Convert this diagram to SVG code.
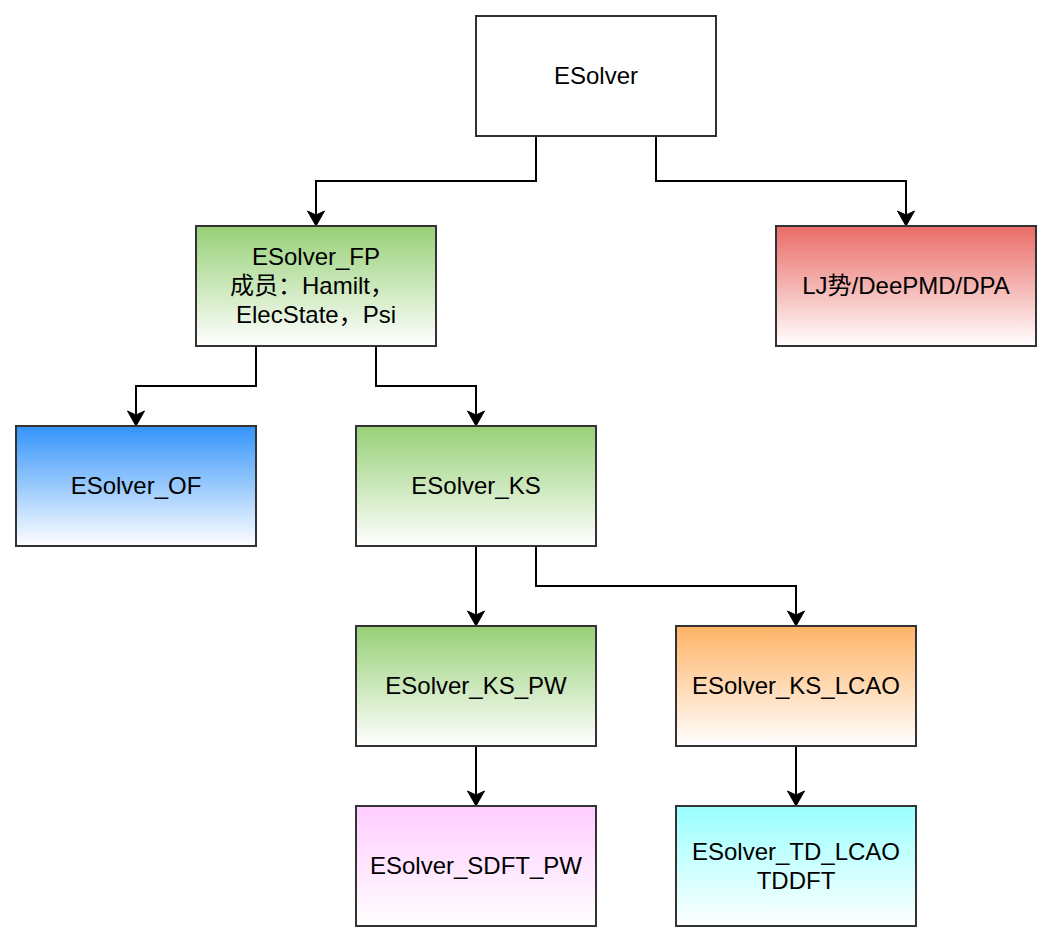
<svg xmlns="http://www.w3.org/2000/svg" width="1054" height="944" viewBox="0 0 1054 944">
<style>
.box{stroke:#333333;stroke-width:2}
.t{font-family:"Liberation Sans","Noto Sans CJK SC",Arial,sans-serif;font-size:24px;fill:#000;text-anchor:middle}
.c{fill:none;stroke:#000;stroke-width:2}
</style>
<defs>
<linearGradient id="gGreen" x1="0" y1="0" x2="0" y2="1"><stop offset="0" stop-color="#97d077"/><stop offset="1" stop-color="#ffffff"/></linearGradient>
<linearGradient id="gRed" x1="0" y1="0" x2="0" y2="1"><stop offset="0" stop-color="#ea6b66"/><stop offset="1" stop-color="#ffffff"/></linearGradient>
<linearGradient id="gBlue" x1="0" y1="0" x2="0" y2="1"><stop offset="0" stop-color="#3394fa"/><stop offset="1" stop-color="#ffffff"/></linearGradient>
<linearGradient id="gOrange" x1="0" y1="0" x2="0" y2="1"><stop offset="0" stop-color="#ffb366"/><stop offset="1" stop-color="#ffffff"/></linearGradient>
<linearGradient id="gPink" x1="0" y1="0" x2="0" y2="1"><stop offset="0" stop-color="#ffccff"/><stop offset="1" stop-color="#ffffff"/></linearGradient>
<linearGradient id="gCyan" x1="0" y1="0" x2="0" y2="1"><stop offset="0" stop-color="#99ffff"/><stop offset="1" stop-color="#ffffff"/></linearGradient>
<marker id="arr" markerUnits="userSpaceOnUse" markerWidth="20" markerHeight="20" refX="0" refY="0" orient="auto" overflow="visible">
<path d="M6,0 L-9,-8.5 L-5,0 L-9,8.5 Z" fill="#000" stroke="#000" stroke-width="1"/>
</marker>
</defs>
<g id="connectors">
<path class="c" d="M536,136 V181 H316 V220" marker-end="url(#arr)"/>
<path class="c" d="M656,136 V181 H906 V220" marker-end="url(#arr)"/>
<path class="c" d="M256,346 V386 H136 V420" marker-end="url(#arr)"/>
<path class="c" d="M376,346 V386 H476 V420" marker-end="url(#arr)"/>
<path class="c" d="M476,546 V620" marker-end="url(#arr)"/>
<path class="c" d="M536,546 V586 H796 V620" marker-end="url(#arr)"/>
<path class="c" d="M476,746 V800" marker-end="url(#arr)"/>
<path class="c" d="M796,746 V800" marker-end="url(#arr)"/>
</g>
<g id="esolver">
<rect class="box" x="476" y="16" width="240" height="120" fill="#ffffff"/>
<text class="t" x="596" y="84">ESolver</text>
</g>
<g id="esolver_fp">
<rect class="box" x="196" y="226" width="240" height="120" fill="url(#gGreen)"/>
<text class="t" x="316" y="265">ESolver_FP</text>
<text class="t" x="312" y="294">成员：Hamilt，</text>
<text class="t" x="316" y="323">ElecState，Psi</text>
</g>
<g id="lj">
<rect class="box" x="776" y="226" width="260" height="120" fill="url(#gRed)"/>
<text class="t" x="906" y="294">LJ势/DeePMD/DPA</text>
</g>
<g id="esolver_of">
<rect class="box" x="16" y="426" width="240" height="120" fill="url(#gBlue)"/>
<text class="t" x="136" y="494">ESolver_OF</text>
</g>
<g id="esolver_ks">
<rect class="box" x="356" y="426" width="240" height="120" fill="url(#gGreen)"/>
<text class="t" x="476" y="494">ESolver_KS</text>
</g>
<g id="esolver_ks_pw">
<rect class="box" x="356" y="626" width="240" height="120" fill="url(#gGreen)"/>
<text class="t" x="476" y="694">ESolver_KS_PW</text>
</g>
<g id="esolver_ks_lcao">
<rect class="box" x="676" y="626" width="240" height="120" fill="url(#gOrange)"/>
<text class="t" x="796" y="694">ESolver_KS_LCAO</text>
</g>
<g id="esolver_sdft_pw">
<rect class="box" x="356" y="806" width="240" height="120" fill="url(#gPink)"/>
<text class="t" x="476" y="874">ESolver_SDFT_PW</text>
</g>
<g id="esolver_td_lcao">
<rect class="box" x="676" y="806" width="240" height="120" fill="url(#gCyan)"/>
<text class="t" x="796" y="860">ESolver_TD_LCAO</text>
<text class="t" x="796" y="889">TDDFT</text>
</g>
</svg>
